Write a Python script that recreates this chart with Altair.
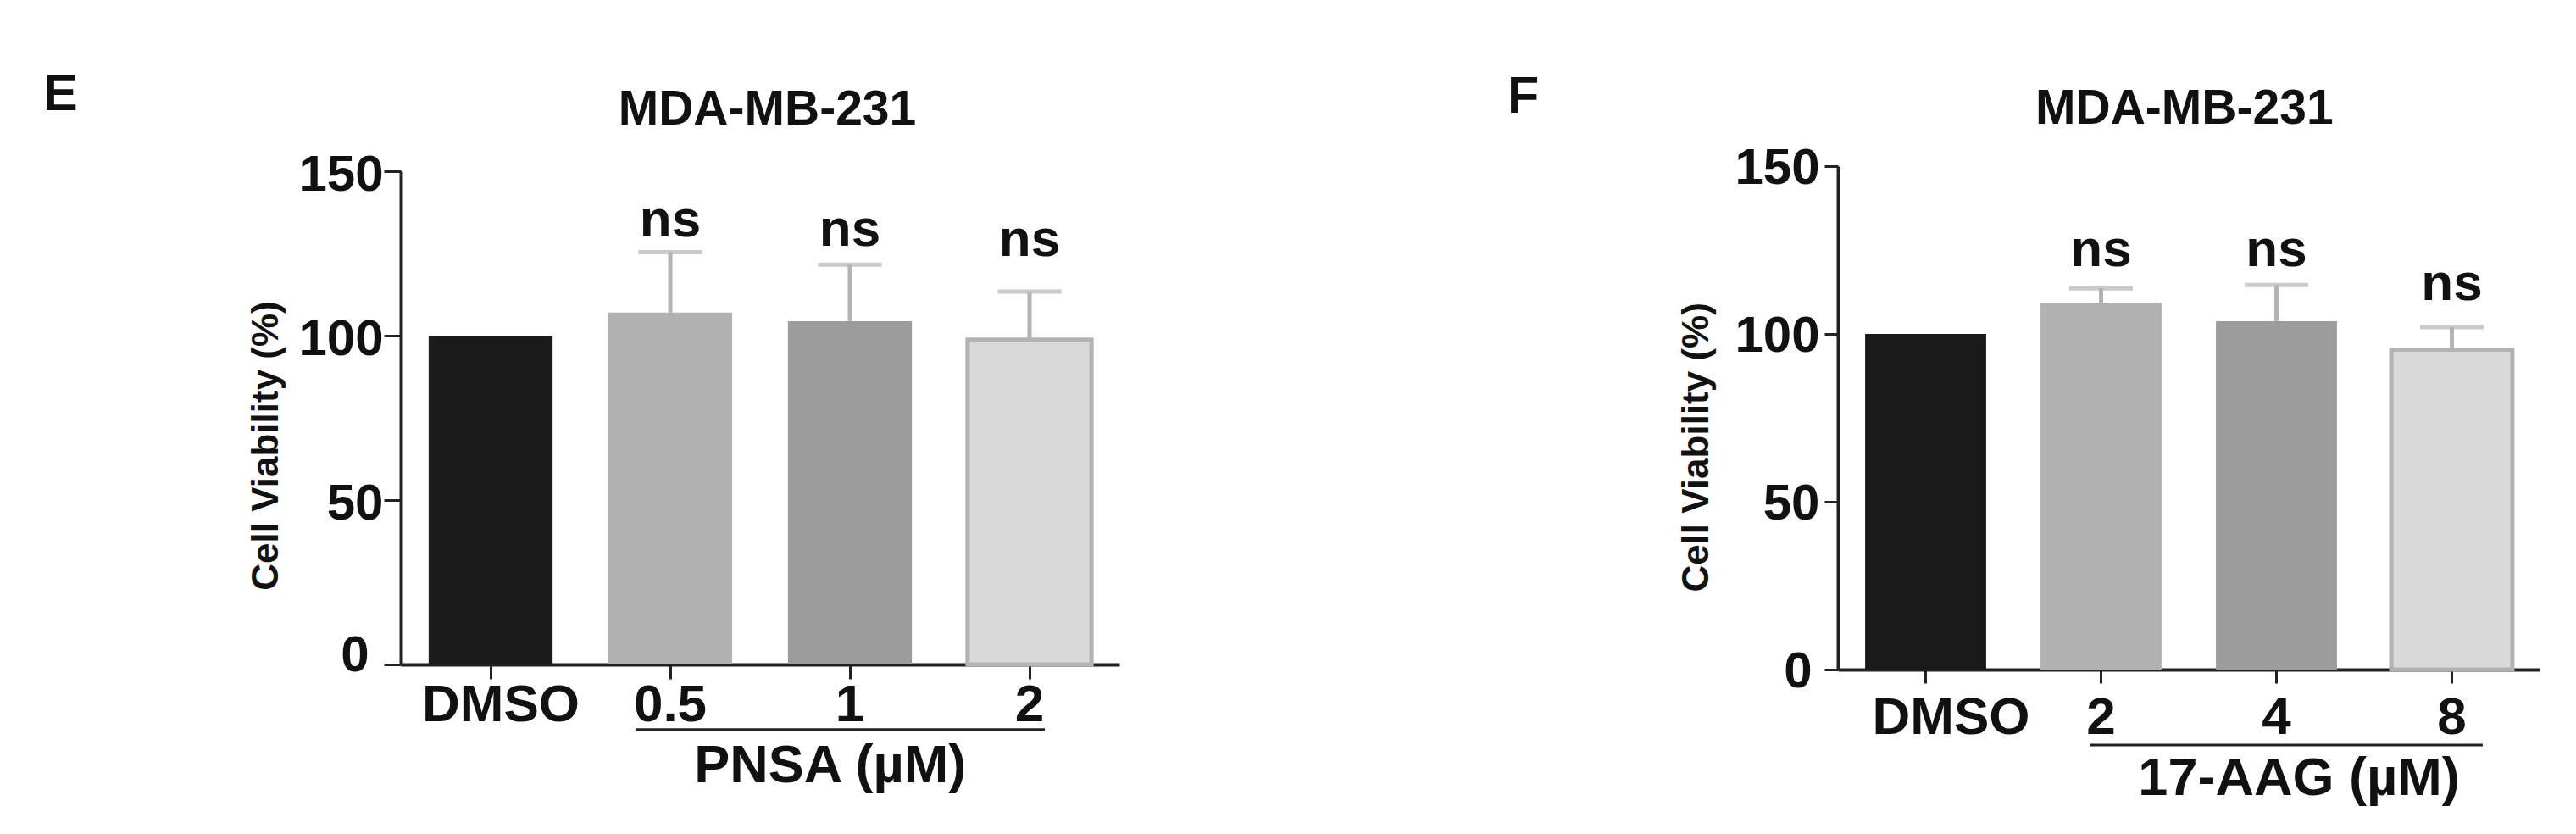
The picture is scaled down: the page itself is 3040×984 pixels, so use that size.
import altair as alt
import pandas as pd

FONT = "Liberation Sans, Arial, sans-serif"

# ---------------- data ----------------
E_categories = ["DMSO", "0.5", "1", "2"]
E_means = [100.0, 107.0, 104.4, 98.8]
E_upper = [None, 125.4, 121.6, 113.4]

F_categories = ["DMSO", "2", "4", "8"]
F_means = [100.0, 109.3, 103.8, 95.3]
F_upper = [None, 113.6, 114.6, 102.0]

sig_labels = [None, "ns", "ns", "ns"]

# heights (in axis units) at which the significance labels sit
E_sig_at = [None, 130.2, 127.3, 124.2]
F_sig_at = [None, 120.2, 120.2, 110.1]

# ---------------- styles ----------------
bar_fills = ["#1a1a1a", "#b1b1b1", "#9b9c9b", "#d9d9d9"]
bar_strokes = ["#1a1a1a", "#b1b1b1", "#9b9c9b", "#b3b3b3"]
bar_stroke_widths = [0, 0, 0, 5]
ERR = "#b3b3b3"
INK = "#111111"


def panel(letter, cats, means, upper, sig_at, group_label, w, h, cfg):
    df = pd.DataFrame({
        "cat": cats, "mean": means, "upper": upper, "sig": sig_labels,
        "sig_at": sig_at, "fill": bar_fills, "stroke": bar_strokes,
        "sw": bar_stroke_widths,
    })
    xs = alt.Scale(domain=cats, paddingInner=0.31, paddingOuter=0.155)
    ys = alt.Scale(domain=[0, 150], nice=False, zero=True)
    x_axis = alt.Axis(
        title=None, labelAngle=0, labelFont=FONT, labelFontSize=62,
        labelFontWeight="bold", labelColor=INK, domainColor="#222222",
        domainWidth=4, tickColor="#222222", tickWidth=3, labelLimit=0,
        tickSize=cfg["xtick"], labelPadding=cfg["xpad"],
        labelOffset={"condition": {"test": "datum.label === 'DMSO'",
                                   "value": cfg["dmso"]}, "value": 0},
    )
    y_axis = alt.Axis(
        title=None, values=[0, 50, 100, 150], grid=False, labelFont=FONT,
        labelFontSize=60, labelFontWeight="bold", labelColor=INK,
        domainColor="#222222", domainWidth=4, tickColor="#222222",
        tickWidth=3, tickSize=cfg["ytick"],
        labelPadding={"condition": {"test": "datum.value === 0",
                                    "value": cfg["ypad0"]}, "value": cfg["ypad"]},
        labelOffset={"condition": {"test": "datum.value === 0",
                                   "value": cfg["yoff0"]}, "value": cfg["yoff"]},
    )
    base = alt.Chart(df)
    X = alt.X("cat:N", scale=xs, axis=x_axis, sort=cats)
    errs = base.transform_filter("isValid(datum.upper)").mark_rule(
        color=ERR, strokeWidth=5
    ).encode(x=X, y=alt.Y("mean:Q", scale=ys, axis=y_axis), y2="upper:Q")
    bars = base.mark_bar().encode(
        x=X,
        y=alt.Y("mean:Q", scale=ys, axis=y_axis),
        color=alt.Color("fill:N", scale=None),
        stroke=alt.Stroke("stroke:N", scale=None),
        strokeWidth=alt.StrokeWidth("sw:Q", scale=None),
    )
    caps = base.transform_filter("isValid(datum.upper)").mark_tick(
        color=ERR, thickness=5, size=75
    ).encode(x=X, y=alt.Y("upper:Q", scale=ys))
    sig = base.transform_filter("isValid(datum.sig)").mark_text(
        font=FONT, fontSize=62, fontWeight="bold", color=INK,
        baseline="alphabetic", align="center"
    ).encode(x=X, y=alt.Y("sig_at:Q", scale=ys), text="sig:N")
    data_layer = alt.layer(errs, bars, caps, sig)

    # annotations on a step-unit x scale spanning the plot width
    ls = alt.Scale(domain=[0, 4], nice=False, zero=False)
    a = cfg["ann"]

    def txt(x, y, text, **kw):
        d = pd.DataFrame({"x": [x], "y": [y], "t": [text]})
        return alt.Chart(d).mark_text(color=INK, **kw).encode(
            x=alt.X("x:Q", scale=ls, axis=None),
            y=alt.Y("y:Q", scale=ys),
            text="t:N",
        )

    letter_t = txt(a["letter"][0], a["letter"][1], letter, font=FONT,
                   fontSize=61, fontWeight="bold", align="left",
                   baseline="alphabetic")
    title_t = txt(a["title"][0], a["title"][1], "MDA-MB-231", font=FONT,
                  fontSize=57, fontWeight="bold", align="center",
                  baseline="alphabetic")
    ytitle_t = txt(a["ytitle"][0], a["ytitle"][1], "Cell Viability (%)",
                   font=FONT, fontSize=44, fontWeight="bold",
                   align="center", baseline="middle", angle=270)
    group_t = txt(a["group"][0], a["group"][1], group_label, font=FONT,
                  fontSize=63, fontWeight="bold", align="center",
                  baseline="alphabetic")
    ul = pd.DataFrame({"x": [a["line"][0]], "x2": [a["line"][1]],
                       "y": [a["line"][2]]})
    line = alt.Chart(ul).mark_rule(color="#222222", strokeWidth=3).encode(
        x=alt.X("x:Q", scale=ls, axis=None), x2="x2:Q",
        y=alt.Y("y:Q", scale=ys),
    )
    ann_layer = alt.layer(letter_t, title_t, ytitle_t, group_t, line)
    return alt.layer(data_layer, ann_layer).resolve_scale(
        x="independent"
    ).properties(width=w, height=h)


E = panel("E", E_categories, E_means, E_upper, E_sig_at, "PNSA (µM)", 848, 582, {
    "xtick": 17, "xpad": 0, "dmso": 12, "ytick": 20, "ypad": 1, "yoff": 4,
    "ypad0": 18, "yoff0": -11,
    "ann": {"letter": (-1.99, 168.6), "title": (2.04, 164.2),
            "ytitle": (-0.745, 66.5), "group": (2.39, -35.8),
            "line": (1.307, 3.585, -19.8)},
})
F = panel("F", F_categories, F_means, F_upper, F_sig_at, "17-AAG (µM)", 828, 594, {
    "xtick": 16, "xpad": 10, "dmso": 30, "ytick": 16, "ypad": 6, "yoff": 2,
    "ypad0": 15, "yoff0": 2,
    "ann": {"letter": (-1.884, 165.9), "title": (1.975, 162.6),
            "ytitle": (-0.80, 66.2), "group": (2.628, -37.4),
            "line": (1.435, 3.676, -22.5)},
})

chart = alt.hconcat(E, F, spacing=848, bounds="flush", center=True).resolve_scale(
    x="independent", y="independent"
).properties(
    padding={"left": 43, "top": 72, "right": 10, "bottom": 10},
    background="white",
).configure_view(stroke="transparent", strokeWidth=0)

chart.save("out.html", embed_options={"renderer": "svg", "actions": False})
